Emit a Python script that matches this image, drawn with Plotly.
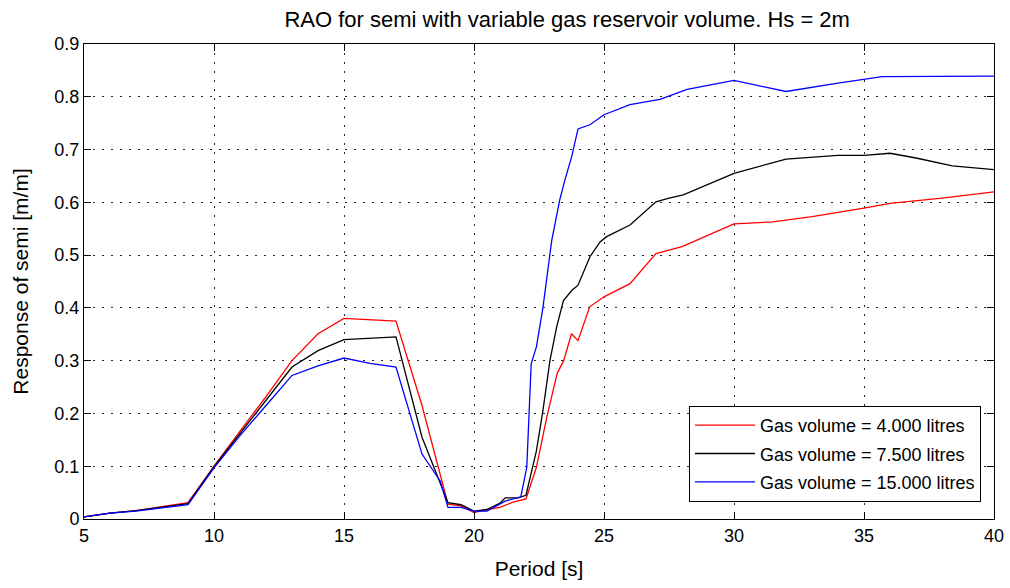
import plotly.graph_objects as go

# ---- data ----
x_red = [5, 6, 7, 8, 9, 10, 11, 12, 13, 14, 15, 17, 18, 19, 19.5, 20, 20.5, 21, 21.5, 22,
         22.4, 22.8, 23.2, 23.45, 23.75, 24.0, 24.45, 25, 26, 27, 28, 30, 31.5, 33, 35, 36, 38, 40]
y_red = [0.004, 0.011, 0.016, 0.023, 0.031, 0.1, 0.165, 0.232, 0.3, 0.351, 0.38, 0.375, 0.215,
         0.028, 0.025, 0.012, 0.018, 0.022, 0.032, 0.038, 0.098, 0.193, 0.276, 0.3, 0.351, 0.338,
         0.402, 0.421, 0.446, 0.503, 0.516, 0.559, 0.563, 0.573, 0.589, 0.598, 0.608, 0.62]

x_black = [5, 6, 7, 8, 9, 10, 11, 12, 13, 14, 15, 17, 18, 19, 19.5, 20, 20.5, 21, 21.2, 21.7,
           22, 22.4, 22.65, 22.92, 23.18, 23.44, 23.76, 24.0, 24.46, 24.85, 25.1, 26.0, 27.0,
           27.5, 28.05, 30, 32, 34, 35, 36, 37, 38.4, 40]
y_black = [0.004, 0.011, 0.016, 0.022, 0.029, 0.099, 0.162, 0.225, 0.288, 0.319, 0.340, 0.345,
           0.155, 0.031, 0.027, 0.015, 0.018, 0.03, 0.04, 0.04, 0.045, 0.129, 0.205, 0.30, 0.364,
           0.414, 0.433, 0.443, 0.497, 0.525, 0.535, 0.557, 0.601, 0.608, 0.614, 0.655, 0.682,
           0.689, 0.689, 0.693, 0.684, 0.669, 0.662]

x_blue = [5, 6, 7, 8, 9, 10, 11, 12, 13, 14, 15, 16, 17, 18, 18.7, 19, 19.5, 20, 20.5, 21.2,
          21.8, 22.03, 22.2, 22.4, 22.65, 22.99, 23.3, 23.5, 23.76, 24.0, 24.46, 25.0, 26.0,
          27.15, 28.2, 30, 32, 34, 35.7, 40]
y_blue = [0.004, 0.011, 0.015, 0.021, 0.027, 0.097, 0.158, 0.215, 0.272, 0.29, 0.305, 0.295,
          0.288, 0.123, 0.072, 0.022, 0.022, 0.015, 0.015, 0.034, 0.042, 0.098, 0.294, 0.326,
          0.40, 0.528, 0.605, 0.643, 0.687, 0.739, 0.747, 0.766, 0.785, 0.795, 0.814, 0.831,
          0.810, 0.826, 0.838, 0.839]

series_names = ["Gas volume = 4.000 litres", "Gas volume = 7.500 litres", "Gas volume = 15.000 litres"]
series_colors = ["#ff0000", "#000000", "#0000ff"]

x_ticks = [5, 10, 15, 20, 25, 30, 35, 40]
y_ticks = [0, 0.1, 0.2, 0.3, 0.4, 0.5, 0.6, 0.7, 0.8, 0.9]
y_ticklabels = ["0", "0.1", "0.2", "0.3", "0.4", "0.5", "0.6", "0.7", "0.8", "0.9"]

FONT = "Liberation Sans, Arial, Helvetica, sans-serif"

fig = go.Figure()
for xs, ys, name, col in zip([x_red, x_black, x_blue], [y_red, y_black, y_blue],
                             series_names, series_colors):
    fig.add_trace(go.Scatter(x=xs, y=ys, mode="lines", name=name, legendgroup=name,
                             line=dict(color=col, width=1.3)))

axis_common = dict(
    showline=True, linecolor="black", linewidth=1, mirror="ticks",
    ticks="inside", ticklen=7, tickcolor="black", tickwidth=1,
    showgrid=True, gridcolor="#222222", gridwidth=1, griddash="1.5px,7.5px",
    zeroline=False, automargin=False,
    tickfont=dict(family=FONT, size=18, color="black"),
)

fig.update_xaxes(range=[5, 40], tickvals=x_ticks, ticktext=[str(v) for v in x_ticks],
                 title=dict(text="Period [s]", font=dict(family=FONT, size=21, color="black"),
                            standoff=16),
                 **axis_common)
fig.update_yaxes(range=[0, 0.9], tickvals=y_ticks, ticktext=y_ticklabels,
                 title=dict(text="Response of semi [m/m]", font=dict(family=FONT, size=21, color="black"),
                            standoff=20),
                 **axis_common)

fig.update_layout(
    width=1010, height=588,
    margin=dict(l=84, r=16, t=44, b=69),
    paper_bgcolor="white", plot_bgcolor="white",
    title=dict(text="RAO for semi with variable gas reservoir volume. Hs = 2m",
               font=dict(family=FONT, size=22, color="black"),
               x=0.531, xref="paper", xanchor="center", y=0.968, yref="container", yanchor="middle"),
    legend=dict(x=0.9857, xanchor="right", y=0.036, yanchor="bottom",
                bgcolor="white", bordercolor="black", borderwidth=1,
                font=dict(family=FONT, size=18, color="black"),
                traceorder="grouped", tracegroupgap=2, itemwidth=60),
    showlegend=True,
)

fig.write_html("out.html")
